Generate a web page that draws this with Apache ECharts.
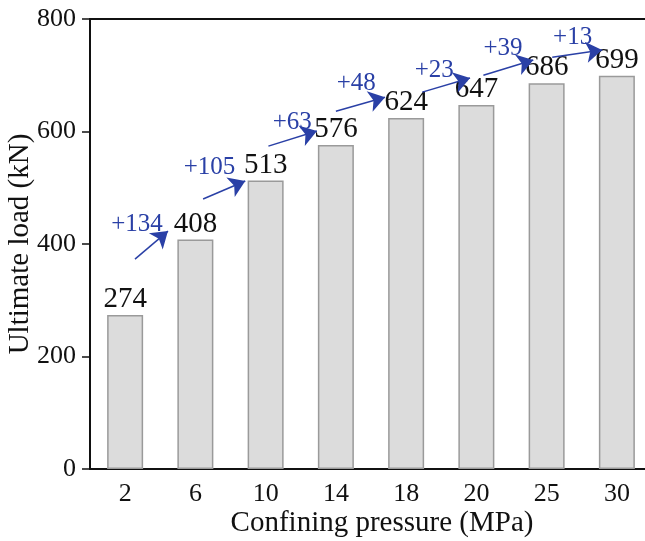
<!DOCTYPE html>
<html>
<head>
<meta charset="utf-8">
<script src="https://cdn.jsdelivr.net/npm/echarts@6/dist/echarts.min.js"></script>
<style>
  html, body { margin: 0; padding: 0; background: #fff; }
  #main { width: 645px; height: 541px; }
</style>
</head>
<body>
<div id="main"></div>
<script>
// confining pressure (MPa) and ultimate load (kN)
const pressures = ['2', '6', '10', '14', '18', '20', '25', '30'];
const loads = [274, 408, 513, 576, 624, 647, 686, 699];

// increase labels between neighbouring bars
const increases = ['+134', '+105', '+63', '+48', '+23', '+39', '+13'];

// arrow ends in data units (x = category index, y = kN)
const arrowFromX = [0.14, 1.11, 2.04, 3.00, 4.23, 5.10, 6.08];
const arrowFromY = [373, 480, 574, 636, 670, 700, 732];
const arrowToX = [0.61, 1.71, 2.73, 3.70, 4.91, 5.81, 6.79];
const arrowToY = [423, 512, 601, 661, 695, 727, 745];

// increase label anchors in data units
const incLabelX = [0.17, 1.20, 2.38, 3.29, 4.40, 5.38, 6.37];
const incLabelY = [434, 537, 617, 686, 708, 748, 768];

const FONT = 'Liberation Serif';
const BLUE = '#2a40a6';

const chart = echarts.init(document.getElementById('main'));

const arrowData = arrowFromX.map((x, i) => ({
  coords: [[x, arrowFromY[i]], [arrowToX[i], arrowToY[i]]]
}));
const incData = incLabelX.map((x, i) => ({
  value: [x, incLabelY[i]],
  label: { formatter: increases[i] }
}));

const option = {
  backgroundColor: '#fff',
  animation: false,
  grid: { left: 90, top: 19, width: 562, height: 450, outerBoundsMode: 'none', containLabel: false },
  xAxis: [
    {
      type: 'category',
      data: pressures,
      name: 'Confining pressure (MPa)',
      nameLocation: 'middle',
      nameGap: 40,
      nameMoveOverlap: false,
      nameTextStyle: { fontFamily: FONT, fontSize: 29, color: '#111', padding: [0, 0, 0, 22] },
      axisLine: { lineStyle: { color: '#111', width: 2 } },
      axisTick: { alignWithLabel: true, length: 8, lineStyle: { color: '#111', width: 1.5 } },
      axisLabel: { fontFamily: FONT, fontSize: 26, color: '#111', margin: 12 }
    },
    {
      type: 'value',
      position: 'top',
      min: -0.5,
      max: 7.5,
      axisLine: { show: true, onZero: false, lineStyle: { color: '#111', width: 2 } },
      axisTick: { show: false },
      axisLabel: { show: false },
      splitLine: { show: false }
    }
  ],
  yAxis: {
    type: 'value',
    min: 0,
    max: 800,
    interval: 200,
    name: 'Ultimate load (kN)',
    nameLocation: 'middle',
    nameGap: 55,
    nameMoveOverlap: false,
    nameTextStyle: { fontFamily: FONT, fontSize: 29, color: '#111' },
    axisLine: { show: true, onZero: false, lineStyle: { color: '#111', width: 2 } },
    axisTick: { show: true, length: 8, lineStyle: { color: '#111', width: 1.5 } },
    axisLabel: { fontFamily: FONT, fontSize: 26, color: '#111', margin: 14 },
    splitLine: { show: false }
  },
  series: [
    {
      type: 'bar',
      data: loads,
      barWidth: 36,
      itemStyle: { color: '#dcdcdc', borderColor: '#9a9a9a', borderWidth: 1.5 },
      label: {
        show: true,
        position: 'top',
        distance: 1,
        fontFamily: FONT,
        fontSize: 29,
        color: '#111'
      }
    },
    {
      type: 'lines',
      coordinateSystem: 'cartesian2d',
      xAxisIndex: 1,
      symbol: ['none', 'arrow'],
      symbolSize: [0, 16],
      lineStyle: { color: BLUE, width: 1.5, opacity: 1 },
      data: arrowData,
      z: 5
    },
    {
      type: 'scatter',
      xAxisIndex: 1,
      symbolSize: 0,
      itemStyle: { opacity: 1 },
      data: incData,
      label: {
        show: true,
        position: 'inside',
        fontFamily: FONT,
        fontSize: 25,
        color: BLUE,
        opacity: 1
      },
      z: 6
    }
  ]
};

chart.setOption(option);
</script>
</body>
</html>
